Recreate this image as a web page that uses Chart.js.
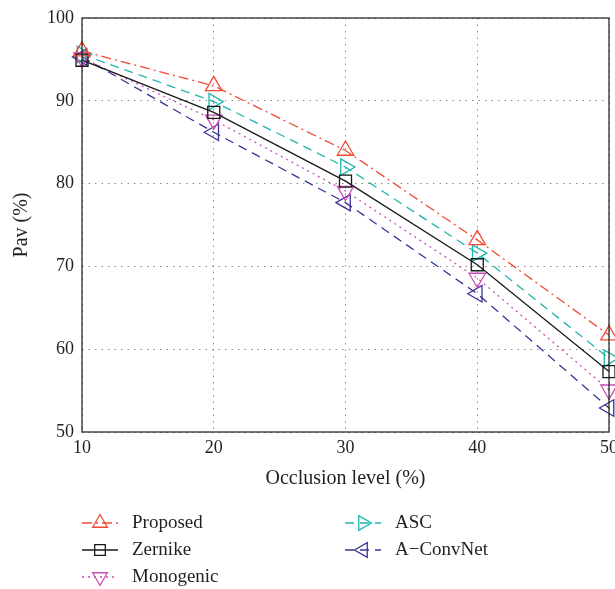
<!DOCTYPE html>
<html lang="en">
<head>
  <meta charset="UTF-8" />
  <title>Occlusion level vs Pav</title>
  <script src="https://cdn.jsdelivr.net/npm/chart.js"></script>
  <style>
    body { margin: 0; background: #ffffff; }
    .wrap { width: 615px; height: 589px; position: relative; }
  </style>
</head>
<body>
  <div class="wrap">
    <canvas id="pavChart"></canvas>
  </div>

  <script>
    // data
    const occlusion = [10, 20, 30, 40, 50];
    const proposed  = [96.0, 91.8, 84.0, 73.2, 61.7];
    const zernike   = [94.9, 88.6, 80.3, 70.2, 57.3];
    const monogenic = [95.2, 87.7, 79.1, 68.6, 55.1];
    const asc       = [95.6, 89.9, 82.0, 71.6, 58.9];
    const aconvnet  = [95.3, 86.2, 77.7, 66.7, 52.9];
    const yTicks    = [50, 60, 70, 80, 90, 100];

    const serif = "'Liberation Serif', 'DejaVu Serif', serif";

    function series(label, values, color, dash, style, rot) {
      return {
        label: label,
        data: occlusion.map((x, i) => ({ x: x, y: values[i] })),
        borderColor: color,
        backgroundColor: 'rgba(0,0,0,0)',
        borderWidth: 1.3,
        borderDash: dash,
        pointStyle: style,
        rotation: rot,
        pointRadius: style === 'rect' ? 8.5 : 9.5,
        pointBorderWidth: 1.3,
        pointBorderColor: color,
        pointBackgroundColor: 'rgba(0,0,0,0)',
        clip: false,
        tension: 0
      };
    }

    const datasets = [
      series('Proposed',  proposed,  '#f04a35', [10, 4, 2, 4], 'triangle', 0),
      series('Zernike',   zernike,   '#1a1a1a', [],            'rect', 0),
      series('Monogenic', monogenic, '#cc4fb8', [2, 4],        'triangle', 180),
      series('ASC',       asc,       '#1fb5ad', [9, 6],        'triangle', 90),
      series('A\u2212ConvNet', aconvnet, '#3b3396', [9, 6],   'triangle', -90)
    ];

    // frame around plot + two-column legend underneath
    const framePlugin = {
      id: 'frame',
      afterDraw(chart) {
        const ctx = chart.ctx;
        const a = chart.chartArea;
        ctx.save();
        ctx.strokeStyle = '#1a1a1a';
        ctx.lineWidth = 1.2;
        ctx.setLineDash([]);
        ctx.strokeRect(a.left, a.top, a.right - a.left, a.bottom - a.top);

        const cols = [82, 345];
        const rows = [523, 550, 577];
        ctx.textBaseline = 'middle';
        chart.data.datasets.forEach((ds, i) => {
          const col = i < 3 ? 0 : 1;
          const row = i < 3 ? i : i - 3;
          const x0 = cols[col], y0 = rows[row];
          ctx.strokeStyle = ds.borderColor;
          ctx.lineWidth = ds.borderWidth;
          ctx.setLineDash(ds.borderDash);
          ctx.beginPath();
          ctx.moveTo(x0, y0);
          ctx.lineTo(x0 + 36, y0);
          ctx.stroke();
          ctx.setLineDash([]);
          ctx.fillStyle = 'rgba(0,0,0,0)';
          Chart.helpers.drawPoint(ctx, {
            pointStyle: ds.pointStyle,
            rotation: ds.rotation,
            radius: ds.pointRadius - 1,
            borderWidth: ds.pointBorderWidth
          }, x0 + 18, y0);
          ctx.fillStyle = '#231f20';
          ctx.font = '19px ' + serif;
          ctx.fillText(ds.label, x0 + 50, y0);
        });
        ctx.restore();
      }
    };

    const ctx = document.getElementById('pavChart').getContext('2d');
    const pavChart = new Chart(ctx, {
      type: 'line',
      data: { datasets: datasets },
      options: {
        responsive: true,
        maintainAspectRatio: false,
        animation: false,
        layout: { autoPadding: false, padding: { top: 18, right: 6, bottom: 97, left: 0 } },
        plugins: {
          legend: { display: false },
          tooltip: { enabled: false }
        },
        scales: {
          x: {
            type: 'linear',
            min: 10,
            max: 50,
            afterFit: (s) => { s.height = 60; s.paddingRight = 0; s.paddingLeft = 0; },
            ticks: {
              stepSize: 10,
              color: '#231f20',
              padding: 5,
              font: { family: serif, size: 18 }
            },
            grid: {
              color: '#8a8a8a',
              lineWidth: 1,
              drawTicks: false
            },
            border: { display: false, dash: [1.5, 5] },
            title: {
              display: true,
              text: 'Occlusion level (%)',
              color: '#231f20',
              font: { family: serif, size: 20 },
              padding: { top: 0, bottom: 1 }
            }
          },
          y: {
            min: 50,
            max: 100,
            afterFit: (s) => { s.width = 82; s.paddingTop = 0; s.paddingBottom = 0; },
            afterBuildTicks: (s) => { s.ticks = yTicks.map(v => ({ value: v })); },
            ticks: {
              color: '#231f20',
              padding: 8,
              font: { family: serif, size: 18 }
            },
            grid: {
              color: '#8a8a8a',
              lineWidth: 1,
              drawTicks: false
            },
            border: { display: false, dash: [1.5, 5] },
            title: {
              display: true,
              text: 'Pav (%)',
              color: '#231f20',
              font: { family: serif, size: 20 },
              padding: { top: 10, bottom: 0 }
            }
          }
        }
      },
      plugins: [framePlugin]
    });
  </script>
</body>
</html>
